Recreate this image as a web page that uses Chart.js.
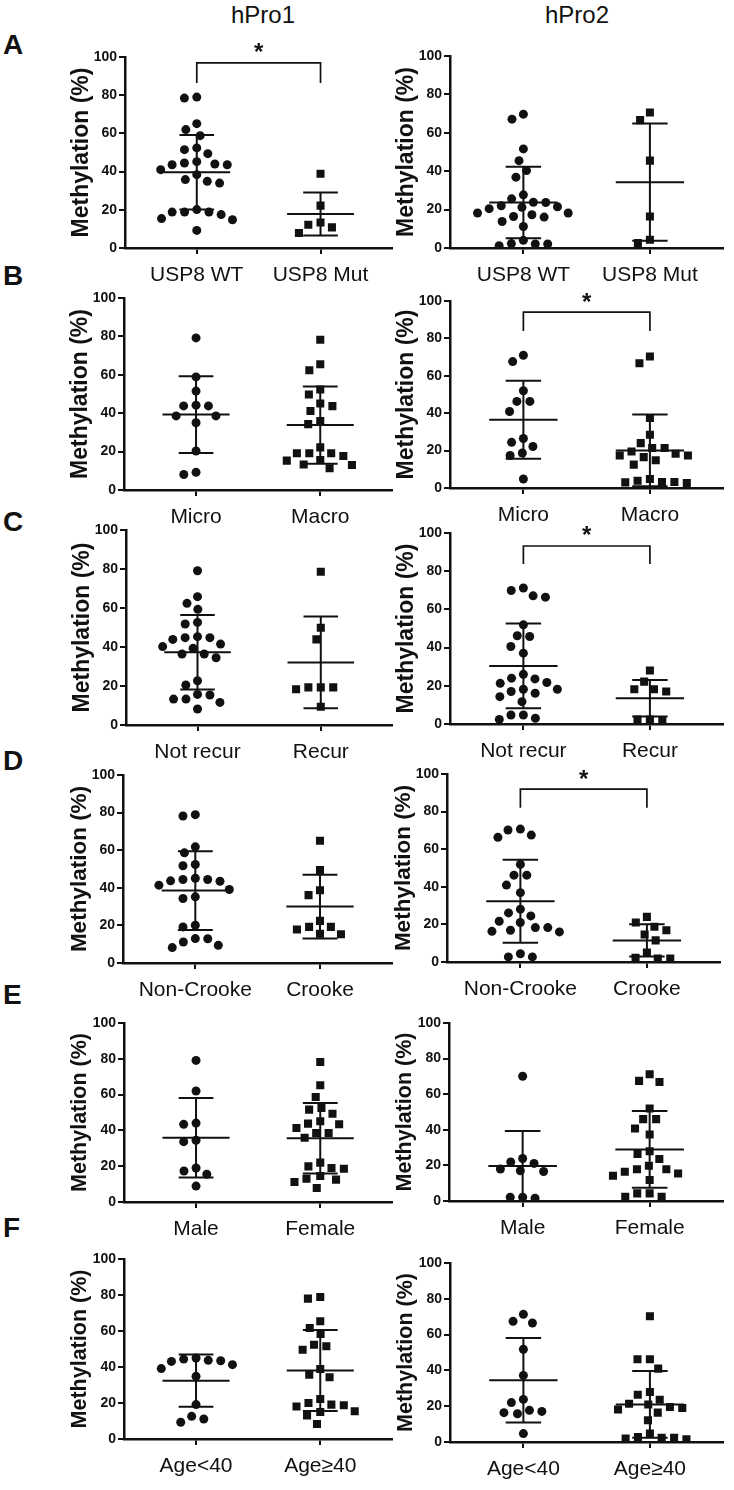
<!DOCTYPE html>
<html>
<head>
<meta charset="utf-8">
<script src="https://cdn.jsdelivr.net/npm/chart.js@4.4.1/dist/chart.umd.min.js"></script>
<style>
html,body{margin:0;padding:0;background:#fff;}
body{width:734px;height:1490px;position:relative;overflow:hidden;font-family:"Liberation Sans",Arial,Helvetica,sans-serif;}
canvas.cv{position:absolute;}
.lab{position:absolute;color:#111;white-space:nowrap;line-height:1;}
</style>
</head>
<body>
<script>
// ================= DATA =================
const columnTitles = ['hPro1', 'hPro2'];
const panelLetters = ['A', 'B', 'C', 'D', 'E', 'F'];
const yAxisTitle = 'Methylation (%)';
const yTicks = [0, 20, 40, 60, 80, 100];

const catsA = ['USP8 WT', 'USP8 Mut'];
const catsB = ['Micro', 'Macro'];
const catsC = ['Not recur', 'Recur'];
const catsD = ['Non-Crooke', 'Crooke'];
const catsE = ['Male', 'Female'];
const catsF = ['Age<40', 'Age\u226540'];

// Row A (USP8)
const A1_g1 = [78.5, 79, 65.1, 62, 58.8, 52.4, 51.5, 49.4, 43.6, 45.2, 43.6, 44.5, 44, 41, 38.4, 35.8, 34, 34.9, 18.8, 17.5, 20.1, 18.8, 18.8, 15.4, 14.8, 9.2];
const A1_g2 = [38.9, 22.2, 13.4, 12.2, 10.8, 7.9];
const A1_mean = [39.6, 17.8];
const A1_sd = [19.5, 11.3];
const A2_g1 = [69.7, 67.1, 51.6, 45.5, 40.3, 36.9, 27.7, 25.6, 23.7, 23.8, 22.0, 21.2, 21.5, 18.2, 18.2, 16.1, 16.4, 17.3, 13.8, 11.2, 4.0, 2.3, 2.1, 2.1, 1.2, 20.5];
const A2_g2 = [70.6, 66.6, 45.5, 16.4, 4.3, 2.6];
const A2_mean = [23.7, 34.3];
const A2_sd = [18.6, 30.5];

// Row B (Micro / Macro)
const B1_g1 = [79.2, 58.9, 51.5, 43.8, 43.8, 44.2, 38.6, 38.6, 35.0, 20.3, 8.1, 9.2];
const B1_g2 = [78.3, 65.5, 62.4, 52.3, 49.7, 45.1, 43.7, 41.1, 34.3, 35.9, 22.2, 19.1, 19.1, 17.7, 19.1, 15.6, 15.3, 11.3, 13.0, 13.3];
const B1_mean = [39.3, 33.8];
const B1_sd = [20.0, 20.1];
const B2_g1 = [71.0, 67.6, 52.0, 46.3, 46.3, 40.9, 24.4, 26.5, 22.2, 18.7, 17.4, 4.8];
const B2_g2 = [70.3, 66.7, 37.4, 28.5, 24.0, 21.4, 21.4, 17.4, 16.5, 17.4, 18.3, 14.8, 12.5, 3.0, 4.8, 3.2, 3.9, 2.7, 3.2, 19.5];
const B2_mean = [36.5, 20.1];
const B2_sd = [20.9, 19.2];

// Row C (Not recur / Recur)
const C1_g1 = [79.1, 65.8, 62.4, 59.3, 52.6, 51.8, 44.8, 44.8, 43.9, 45.3, 41.5, 39.3, 40.2, 36.4, 36.4, 34.5, 20.5, 22.7, 13.3, 15.4, 15.7, 11.6, 13.3, 8.2];
const C1_g2 = [78.6, 49.9, 43.9, 19.3, 19.3, 19.3, 18.3, 9.4];
const C1_mean = [37.3, 32.1];
const C1_sd = [19.1, 23.5];
const C2_g1 = [69.9, 71.2, 66.4, 67.1, 51.9, 45.8, 46.2, 40.6, 37.1, 24.0, 21.7, 23.6, 26.0, 21.3, 18.2, 18.2, 17.0, 16.1, 14.3, 11.7, 2.4, 4.7, 3.0, 4.7];
const C2_g2 = [28.0, 18.2, 17.0, 22.2, 18.2, 2.1, 2.4, 2.4];
const C2_mean = [30.4, 13.5];
const C2_sd = [22.2, 9.6];

// Row D (Non-Crooke / Crooke)
const D1_g1 = [78.2, 78.9, 61.8, 58.6, 51.7, 52.4, 45.1, 43.7, 44.4, 41.4, 43.5, 44.4, 35.2, 34.3, 39.1, 19.2, 20.1, 13.0, 8.2, 9.4, 11.2, 12.9];
const D1_g2 = [65.0, 49.4, 38.7, 36.1, 22.4, 17.8, 19.2, 19.2, 15.6, 15.3];
const D1_mean = [38.5, 30.0];
const D1_sd = [21.0, 17.0];
const D2_g1 = [67.5, 70.7, 70.2, 66.3, 51.9, 46.2, 46.2, 40.9, 36.9, 28.1, 26.1, 24.5, 18.3, 18.3, 16.0, 21.0, 21.7, 16.3, 16.9, 2.7, 4.4, 2.7];
const D2_g2 = [24.0, 16.9, 18.7, 21.0, 14.6, 11.5, 5.0, 1.8, 1.8, 2.3];
const D2_mean = [32.3, 11.5];
const D2_sd = [22.1, 8.6];

// Row E (Male / Female)
const E1_g1 = [79.1, 62.0, 44.1, 43.4, 34.5, 33.7, 19.0, 15.5, 17.3, 8.9];
const E1_g2 = [78.2, 65.2, 58.7, 51.6, 52.5, 49.3, 45.1, 41.3, 43.8, 43.4, 38.5, 38.5, 35.9, 19.0, 19.9, 18.6, 22.0, 12.5, 14.5, 11.2, 13.0, 7.8];
const E1_mean = [35.9, 35.6];
const E1_sd = [22.2, 19.7];
const E2_g1 = [70.1, 23.9, 21.9, 21.1, 18.0, 16.6, 17.0, 1.6, 2.1, 2.1];
const E2_g2 = [71.2, 66.9, 67.5, 52.0, 46.0, 46.0, 40.7, 37.4, 28.0, 26.4, 23.6, 17.8, 15.5, 11.8, 17.8, 14.2, 19.8, 16.4, 2.4, 4.3, 2.4, 4.3];
const E2_mean = [19.6, 29.0];
const E2_sd = [19.7, 21.5];

// Row F (Age)
const F1_g1 = [43.7, 41.3, 44.4, 45.0, 39.1, 43.1, 43.5, 34.8, 19.1, 9.3, 12.6, 11.1];
const F1_g2 = [78.0, 78.9, 61.7, 65.4, 58.3, 52.4, 51.5, 49.6, 35.7, 38.9, 34.3, 22.2, 18.1, 15.4, 19.1, 20.0, 18.7, 13.1, 15.0, 8.3];
const F1_mean = [32.4, 38.0];
const F1_sd = [14.5, 22.5];
const F2_g1 = [71.3, 66.5, 67.4, 51.8, 37.2, 23.8, 22.0, 17.7, 16.4, 15.8, 17.1, 4.7];
const F2_g2 = [70.2, 46.2, 46.2, 41.0, 26.4, 27.9, 23.6, 21.4, 20.9, 19.6, 16.4, 18.2, 12.1, 4.7, 2.4, 1.9, 2.8, 1.5, 2.4, 19.0];
const F2_mean = [34.5, 21.0];
const F2_sd = [23.6, 18.6];

// significance brackets [leg bottom, bracket top] in % units
const sigA1 = [86.4, 96.9];
const sigB2 = [84.0, 94.1];
const sigC2 = [83.8, 93.2];
const sigD2 = [82.0, 92.0];
const sigLabel = '*';

// ================= LAYOUT (pixels, not data) =================
const FONT = '"Liberation Sans", Arial, Helvetica, sans-serif';
const INK = '#111111';
const ROW_Y = [[57, 248, 56, 248], [298, 490, 301, 488], [530, 725, 533, 724], [775, 963, 774, 962], [1023, 1202, 1023, 1201], [1259, 1439, 1263, 1442]];
const LEFT_AXIS = [[125, 394], [124, 394], [126, 394], [123, 394], [124, 394], [124, 394]];
const RIGHT_AXIS = [[450, 725], [450, 725], [450, 725], [447, 722], [449, 725], [450, 725]];
const TITLE_SIZE = [23, 23, 23, 22.5, 21.5, 21.5];
const X_MIN = 0.42, X_MAX = 2.58;
const MEAN_HALF = 0.27, CAP_HALF = 0.14;
const YW = 57, PT = 34, PR = 4, XH = 54;

Chart.defaults.font.family = FONT;
Chart.defaults.color = INK;

const panels = [
  {row: 0, col: 0, cats: catsA, g: [A1_g1, A1_g2], mean: A1_mean, sd: A1_sd, sig: sigA1},
  {row: 0, col: 1, cats: catsA, g: [A2_g1, A2_g2], mean: A2_mean, sd: A2_sd, sig: null},
  {row: 1, col: 0, cats: catsB, g: [B1_g1, B1_g2], mean: B1_mean, sd: B1_sd, sig: null},
  {row: 1, col: 1, cats: catsB, g: [B2_g1, B2_g2], mean: B2_mean, sd: B2_sd, sig: sigB2},
  {row: 2, col: 0, cats: catsC, g: [C1_g1, C1_g2], mean: C1_mean, sd: C1_sd, sig: null},
  {row: 2, col: 1, cats: catsC, g: [C2_g1, C2_g2], mean: C2_mean, sd: C2_sd, sig: sigC2},
  {row: 3, col: 0, cats: catsD, g: [D1_g1, D1_g2], mean: D1_mean, sd: D1_sd, sig: null},
  {row: 3, col: 1, cats: catsD, g: [D2_g1, D2_g2], mean: D2_mean, sd: D2_sd, sig: sigD2},
  {row: 4, col: 0, cats: catsE, g: [E1_g1, E1_g2], mean: E1_mean, sd: E1_sd, sig: null},
  {row: 4, col: 1, cats: catsE, g: [E2_g1, E2_g2], mean: E2_mean, sd: E2_sd, sig: null},
  {row: 5, col: 0, cats: catsF, g: [F1_g1, F1_g2], mean: F1_mean, sd: F1_sd, sig: null},
  {row: 5, col: 1, cats: catsF, g: [F2_g1, F2_g2], mean: F2_mean, sd: F2_sd, sig: null}
];

// beeswarm: horizontal offsets (in x units) so markers do not overlap
function swarmOffsets(values, ypx, xpx, D) {
  const idx = values.map((v, i) => i).sort((a, b) => values[b] - values[a]);
  const placed = [];
  const off = new Array(values.length).fill(0);
  for (const i of idx) {
    const y = values[i] * ypx;
    const near = placed.filter(p => Math.abs(p.y - y) < D);
    const cands = [0];
    for (const p of near) {
      const dx = Math.sqrt(D * D - (p.y - y) * (p.y - y));
      cands.push(p.x + dx + 0.01, p.x - dx - 0.01);
    }
    cands.sort((a, b) => (Math.abs(a) - Math.abs(b)) || (a - b));
    let best = 0;
    for (const c of cands) {
      if (near.every(p => (p.x - c) * (p.x - c) + (p.y - y) * (p.y - y) >= D * D - 0.05)) { best = c; break; }
    }
    placed.push({x: best, y: y});
    off[i] = best / xpx;
  }
  return off;
}

function errorBarData(mean, sd) {
  const out = [];
  mean.forEach((m, k) => {
    const c = k + 1, s = sd[k];
    const lo = Math.max(m - s, 0), hi = m + s;
    out.push({x: c - MEAN_HALF, y: m}, {x: c + MEAN_HALF, y: m}, {x: c, y: null});
    out.push({x: c - CAP_HALF, y: hi}, {x: c + CAP_HALF, y: hi}, {x: c, y: null});
    out.push({x: c - CAP_HALF, y: lo}, {x: c + CAP_HALF, y: lo}, {x: c, y: null});
    out.push({x: c, y: lo}, {x: c, y: hi}, {x: c, y: null});
  });
  return out;
}

const sigStarPlugin = {
  id: 'sigStar',
  afterDatasetsDraw(chart, args, opts) {
    if (!opts || opts.top == null) return;
    const ctx = chart.ctx;
    const xs = chart.scales.x, ys = chart.scales.y;
    const px = xs.getPixelForValue(1.5);
    const py = ys.getPixelForValue(opts.top) - 16;
    ctx.save();
    ctx.fillStyle = INK;
    ctx.font = 'bold 24px ' + FONT;
    ctx.textAlign = 'center';
    ctx.textBaseline = 'alphabetic';
    ctx.fillText(opts.text, px, py + 13.5);
    ctx.restore();
  }
};

// ---- HTML labels: column headers & panel letters ----
function addLabel(text, cx, cy, size, weight, alignCenter) {
  const d = document.createElement('div');
  d.className = 'lab';
  d.textContent = text;
  d.style.fontSize = size + 'px';
  d.style.fontWeight = weight;
  d.style.top = (cy - 0.49 * size) + 'px';
  if (alignCenter) { d.style.left = cx + 'px'; d.style.transform = 'translateX(-50%)'; }
  else d.style.left = cx + 'px';
  document.body.appendChild(d);
}
addLabel(columnTitles[0], 263, 15, 24, 'normal', true);
addLabel(columnTitles[1], 577, 15, 24, 'normal', true);
const letterY = [45, 276, 522, 761, 995, 1228];
panelLetters.forEach((L, i) => addLabel(L, 3, letterY[i], 28, 'bold', false));

// ---- charts ----
panels.forEach(p => {
  const ry = ROW_Y[p.row];
  const top = p.col === 0 ? ry[0] : ry[2];
  const bottom = p.col === 0 ? ry[1] : ry[3];
  const ax = p.col === 0 ? LEFT_AXIS[p.row] : RIGHT_AXIS[p.row];
  const left = ax[0], right = ax[1];
  const cL = left - YW, cT = top - PT;
  const cW = right - cL + PR, cH = PT + (bottom - top) + XH;
  const cv = document.createElement('canvas');
  cv.className = 'cv';
  cv.width = cW; cv.height = cH;
  cv.style.left = cL + 'px'; cv.style.top = cT + 'px';
  cv.style.width = cW + 'px'; cv.style.height = cH + 'px';
  document.body.appendChild(cv);

  const ypx = (bottom - top) / 100;
  const xpx = (right - left) / (X_MAX - X_MIN);
  const datasets = [];
  p.g.forEach((vals, k) => {
    const off = swarmOffsets(vals, ypx, xpx, 12.5);
    datasets.push({
      type: 'scatter',
      data: vals.map((v, i) => ({x: k + 1 + off[i], y: v})),
      pointStyle: k === 0 ? 'circle' : 'rect',
      pointRadius: k === 0 ? 4.5 : 5.7,
      backgroundColor: INK,
      borderWidth: 0,
      pointHoverRadius: 0
    });
  });
  datasets.push({
    type: 'line',
    data: errorBarData(p.mean, p.sd),
    borderColor: INK,
    borderWidth: 2,
    pointRadius: 0,
    spanGaps: false,
    fill: false,
    tension: 0,
    clip: false
  });
  if (p.sig) {
    datasets.push({
      type: 'line',
      data: [{x: 1, y: p.sig[0]}, {x: 1, y: p.sig[1]}, {x: 2, y: p.sig[1]}, {x: 2, y: p.sig[0]}],
      borderColor: INK,
      borderWidth: 1.7,
      pointRadius: 0,
      fill: false,
      tension: 0,
      clip: false
    });
  }
  const cats = p.cats;
  new Chart(cv.getContext('2d'), {
    type: 'scatter',
    data: {datasets: datasets},
    plugins: [sigStarPlugin],
    options: {
      responsive: false,
      animation: false,
      devicePixelRatio: 1,
      events: [],
      layout: {padding: {top: PT, left: 0, right: PR, bottom: 0}},
      plugins: {
        legend: {display: false},
        tooltip: {enabled: false},
        sigStar: p.sig ? {top: p.sig[1], text: sigLabel} : {top: null}
      },
      scales: {
        x: {
          type: 'linear',
          min: X_MIN, max: X_MAX,
          afterBuildTicks: s => { s.ticks = [{value: 1}, {value: 2}]; },
          afterFit: s => { s.height = XH; },
          ticks: {
            callback: v => cats[Math.round(v) - 1],
            font: {size: 21, family: FONT},
            color: INK,
            padding: 9,
            autoSkip: false,
            maxRotation: 0
          },
          grid: {display: true, drawOnChartArea: false, drawTicks: true, tickLength: 6, tickWidth: 2, tickColor: INK, color: INK, lineWidth: 2},
          border: {display: true, color: INK, width: 2.5}
        },
        y: {
          min: 0, max: 100,
          afterBuildTicks: s => { s.ticks = yTicks.map(v => ({value: v})); },
          afterFit: s => { s.width = YW; },
          ticks: {font: {size: 14, weight: 'bold', family: FONT}, color: INK, padding: 2},
          title: {display: true, text: yAxisTitle, font: {size: TITLE_SIZE[p.row], weight: 'bold', family: FONT}, color: INK, padding: 0},
          grid: {display: true, drawOnChartArea: false, drawTicks: true, tickLength: 6, tickWidth: 2, tickColor: INK, color: INK, lineWidth: 2},
          border: {display: true, color: INK, width: 2.5}
        }
      }
    }
  });
});
</script>
</body>
</html>
